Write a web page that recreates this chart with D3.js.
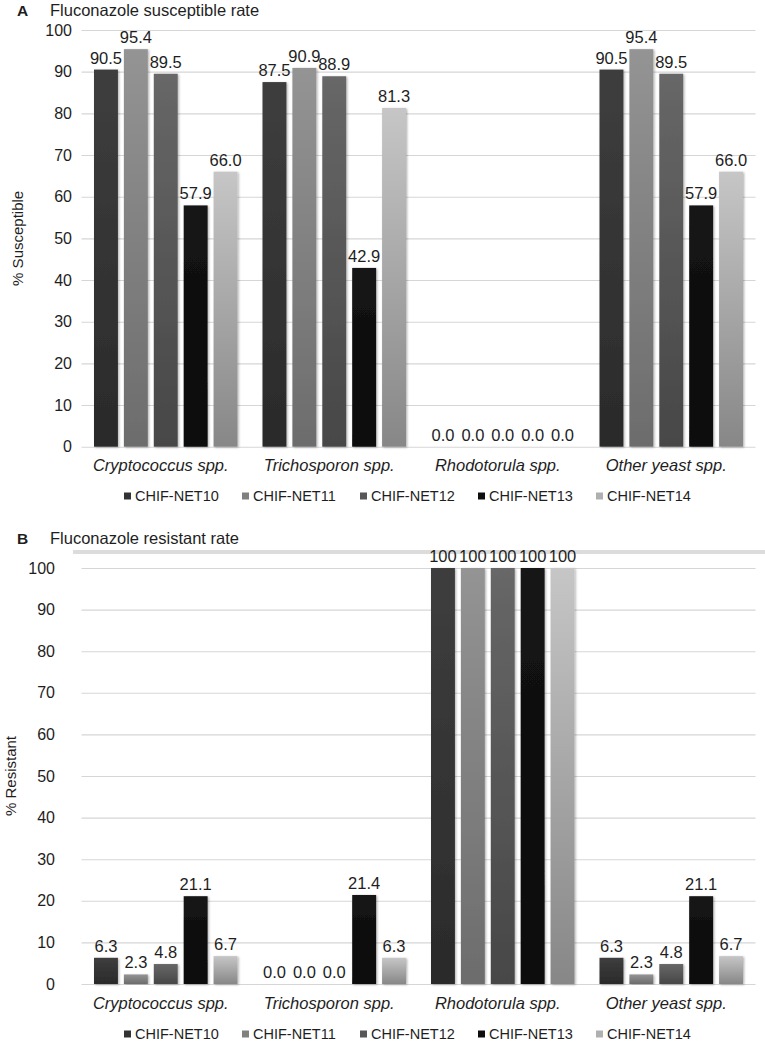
<!DOCTYPE html>
<html>
<head>
<meta charset="utf-8">
<script src="https://cdn.jsdelivr.net/npm/d3@7"></script>
<style>
  html, body { margin: 0; padding: 0; background: #fff; }
  svg { display: block; font-family: "Liberation Sans", Arial, sans-serif; }
</style>
</head>
<body>
<script>
// ---------------- DATA ----------------
const categories = ["Cryptococcus spp.", "Trichosporon spp.", "Rhodotorula spp.", "Other yeast spp."];
const seriesNames = ["CHIF-NET10", "CHIF-NET11", "CHIF-NET12", "CHIF-NET13", "CHIF-NET14"];
const yTicks = [0, 10, 20, 30, 40, 50, 60, 70, 80, 90, 100];

// Panel A: Fluconazole susceptible rate (%), per series across categories
const susNET10 = [90.5, 87.5, 0.0, 90.5];
const susNET11 = [95.4, 90.9, 0.0, 95.4];
const susNET12 = [89.5, 88.9, 0.0, 89.5];
const susNET13 = [57.9, 42.9, 0.0, 57.9];
const susNET14 = [66.0, 81.3, 0.0, 66.0];

// Panel B: Fluconazole resistant rate (%)
const resNET10 = [6.3, 0.0, 100, 6.3];
const resNET11 = [2.3, 0.0, 100, 2.3];
const resNET12 = [4.8, 0.0, 100, 4.8];
const resNET13 = [21.1, 21.4, 100, 21.1];
const resNET14 = [6.7, 6.3, 100, 6.7];

const susceptible = [susNET10, susNET11, susNET12, susNET13, susNET14];
const resistant = [resNET10, resNET11, resNET12, resNET13, resNET14];

// ---------------- STYLE ----------------
const gradTop = ["#3e3e3e", "#949494", "#676767", "#151515", "#c6c6c6"];
const gradBot = ["#2a2a2a", "#6c6c6c", "#474747", "#070707", "#878787"];
const legendColors = ["#333333", "#808080", "#575757", "#0e0e0e", "#b0b0b0"];
const textColor = "#1e1e1e";

const W = 765, H = 1041;
const svg = d3.select("body").append("svg").attr("width", W).attr("height", H);
const defs = svg.append("defs");

seriesNames.forEach((s, i) => {
  const g = defs.append("linearGradient").attr("id", "grad" + i)
    .attr("x1", 0).attr("y1", 0).attr("x2", 0).attr("y2", 1);
  g.append("stop").attr("offset", "0%").attr("stop-color", gradTop[i]);
  g.append("stop").attr("offset", "100%").attr("stop-color", gradBot[i]);
});
const f = defs.append("filter").attr("id", "shadow")
  .attr("x", "-20%").attr("y", "-5%").attr("width", "150%").attr("height", "115%");
f.append("feDropShadow").attr("dx", 1.2).attr("dy", 0.8).attr("stdDeviation", 0.9)
  .attr("flood-color", "#000").attr("flood-opacity", 0.3);

const plotLeft = 81.5, plotRight = 755.5;

const x0 = d3.scaleBand().domain(categories).range([plotLeft, plotRight]).padding(0);
const x1 = d3.scaleBand().domain(seriesNames)
  .range([12.5, x0.bandwidth() - 12.5]).paddingInner(0.2).paddingOuter(0);
const legendX = d3.scaleBand().domain(seriesNames).range([124, 124 + 5 * 118]);

function fmt(v) { return v === 100 ? "100" : v.toFixed(1); }

function drawPanel(opt) {
  const g = svg.append("g");
  const y = d3.scaleLinear().domain([0, 100]).range([opt.y0, opt.y100]);

  // title
  g.append("text").attr("x", 17).attr("y", opt.titleY)
    .attr("font-size", 15.5).attr("font-weight", "bold").attr("fill", textColor).text(opt.letter);
  g.append("text").attr("x", 50).attr("y", opt.titleY)
    .attr("font-size", 16.5).attr("fill", textColor).text(opt.title);

  if (opt.band) {
    g.append("line").attr("x1", 73).attr("x2", W).attr("y1", opt.band).attr("y2", opt.band)
      .attr("stroke", "#dcdcdc").attr("stroke-width", 4);
  }

  // axis with gridlines
  const axis = d3.axisLeft(y).tickValues(yTicks)
    .tickSize(-(plotRight - plotLeft)).tickPadding(opt.tickPad).tickFormat(d3.format("d"));
  const ag = g.append("g").attr("transform", `translate(${plotLeft},0)`).call(axis);
  ag.select(".domain").remove();
  ag.selectAll(".tick line").attr("stroke", "#d6d6d6").attr("stroke-width", 1.1);
  ag.selectAll(".tick text").attr("font-size", 16).attr("fill", textColor)
    .attr("font-family", "'Liberation Sans', Arial, sans-serif");

  // y-axis title
  g.append("text").attr("transform", `translate(${opt.yTitleX},${(opt.y0 + opt.y100) / 2}) rotate(-90)`)
    .attr("text-anchor", "middle").attr("dy", "0.35em")
    .attr("font-size", 15).attr("fill", textColor).text(opt.yTitle);

  // bars
  const rows = [];
  opt.data.forEach((arr, si) => arr.forEach((v, ci) => rows.push({ s: seriesNames[si], si, c: categories[ci], v })));

  g.append("g").selectAll("rect").data(rows.filter(d => d.v > 0)).join("rect")
    .attr("x", d => x0(d.c) + x1(d.s))
    .attr("width", x1.bandwidth())
    .attr("y", d => y(d.v))
    .attr("height", d => y(0) - y(d.v))
    .attr("fill", d => `url(#grad${d.si})`)
    .attr("filter", "url(#shadow)");

  g.append("g").selectAll("text").data(rows).join("text")
    .attr("x", d => x0(d.c) + x1(d.s) + x1.bandwidth() / 2)
    .attr("y", d => y(d.v) - 6)
    .attr("text-anchor", "middle")
    .attr("font-size", 16.5).attr("fill", textColor)
    .text(d => fmt(d.v));

  // category labels
  g.append("g").selectAll("text").data(categories).join("text")
    .attr("x", d => x0(d) + x0.bandwidth() / 2 - 5)
    .attr("y", opt.catY)
    .attr("text-anchor", "middle").attr("dy", "0.35em")
    .attr("font-size", 16.5).attr("font-style", "italic").attr("fill", textColor)
    .text(d => d);

  // legend
  const lg = g.append("g").selectAll("g").data(seriesNames).join("g")
    .attr("transform", d => `translate(${legendX(d)},${opt.legY})`);
  lg.append("rect").attr("x", 0).attr("y", -3.5).attr("width", 7).attr("height", 7)
    .attr("fill", (d, i) => legendColors[i]);
  lg.append("text").attr("x", 11).attr("y", 0).attr("dy", "0.35em")
    .attr("font-size", 14.5).attr("fill", textColor).text(d => d);
}

drawPanel({
  letter: "A", title: "Fluconazole susceptible rate", titleY: 16,
  y0: 446.7, y100: 30, tickPad: 9.5, yTitle: "% Susceptible", yTitleX: 18,
  data: susceptible, catY: 465, legY: 496
});
drawPanel({
  letter: "B", title: "Fluconazole resistant rate", titleY: 544, band: 552,
  y0: 984, y100: 568, tickPad: 26.5, yTitle: "% Resistant", yTitleX: 11,
  data: resistant, catY: 1003, legY: 1034
});
</script>
</body>
</html>
